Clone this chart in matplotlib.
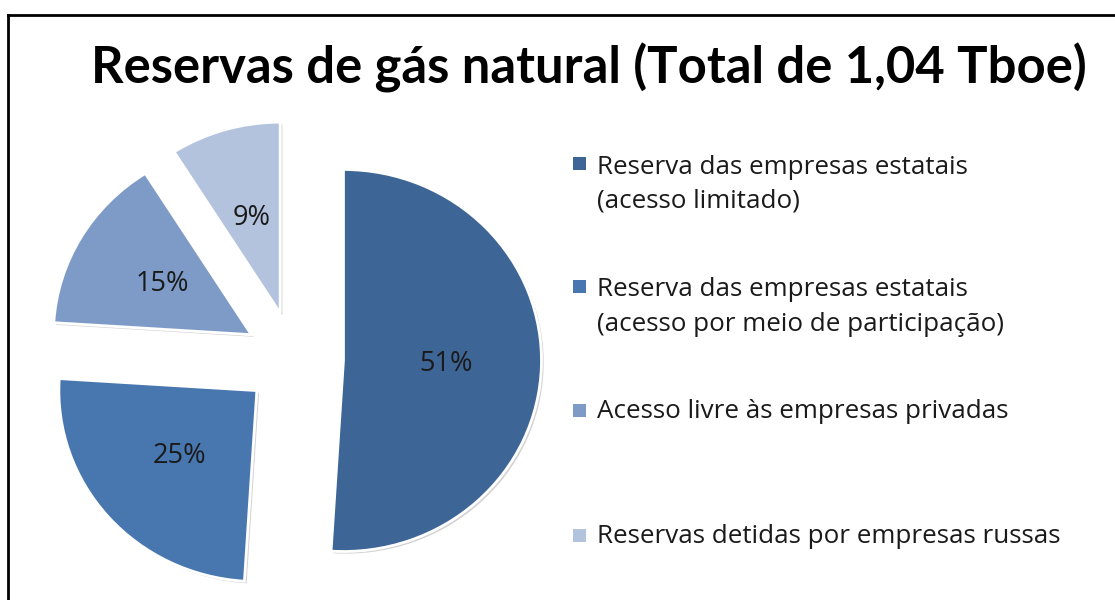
import matplotlib
matplotlib.use("Agg")
import matplotlib.pyplot as plt
from matplotlib.lines import Line2D
from matplotlib.patches import Rectangle

plt.rcParams["font.family"] = ["Open Sans", "DejaVu Sans"]

# Data
labels = [
    "Reserva das empresas estatais\n(acesso limitado)",
    "Reserva das empresas estatais\n(acesso por meio de participação)",
    "Acesso livre às empresas privadas",
    "Reservas detidas por empresas russas",
]
shares = [51, 25, 15, 9]
colors = ["#3d6696", "#4877b0", "#7e9bc8", "#b3c3de"]
title = "Reservas de gás natural (Total de 1,04 Tboe)"

W, H = 1115, 600
fig = plt.figure(figsize=(W / 100, H / 100), dpi=100)

# pie axes: centre at (294, 359) px from top-left, slightly wider than tall
rx, ry = 198, 191
cx, cy = 294, 359
lim = 1.4
ax = fig.add_axes([(cx - lim * rx) / W, (H - cy - lim * ry) / H,
                   2 * lim * rx / W, 2 * lim * ry / H])
wedges, texts, autotexts = ax.pie(
    shares,
    colors=colors,
    startangle=90,
    counterclock=False,
    explode=[0.25] * len(shares),
    autopct="%d%%",
    pctdistance=0.52,
    wedgeprops=dict(edgecolor="white", linewidth=2),
    textprops=dict(fontsize=19.5, color="#1a1a1a"),
    shadow=dict(ox=0.008, oy=-0.008, facecolor="#9a9a9a", edgecolor="none",
                alpha=0.45),
)
ax.set_xlim(-lim, lim)
ax.set_ylim(-lim, lim)
ax.set_aspect("auto")

# title
fig.text(589 / W, 1 - 68 / H, title, ha="center", va="center",
         fontsize=36.5, fontweight="bold", color="black", family="Lato")

# legend (manual, square aligned with first text line)
leg_base = [171, 294, 418, 543]
line_gap = 37
for lab, col, yb in zip(labels, colors, leg_base):
    fig.patches.append(Rectangle((573 / W, 1 - (yb - 1) / H), 13 / W, 13 / H,
                                 transform=fig.transFigure, facecolor=col,
                                 edgecolor="none"))
    nlines = lab.count("\n") + 1
    fig.text(597 / W, 1 - (yb + (nlines - 1) * line_gap) / H, lab,
             ha="left", va="baseline", fontsize=18.7, color="#1a1a1a",
             linespacing=1.5)

# frame lines (left and top)
fig.add_artist(Line2D([8 / W, 8 / W], [0, 1 - 15 / H], transform=fig.transFigure,
                      color="black", linewidth=2))
fig.add_artist(Line2D([8 / W, 1114 / W], [1 - 15 / H, 1 - 15 / H],
                      transform=fig.transFigure, color="black", linewidth=2))

fig.savefig("out.png", dpi=100)
